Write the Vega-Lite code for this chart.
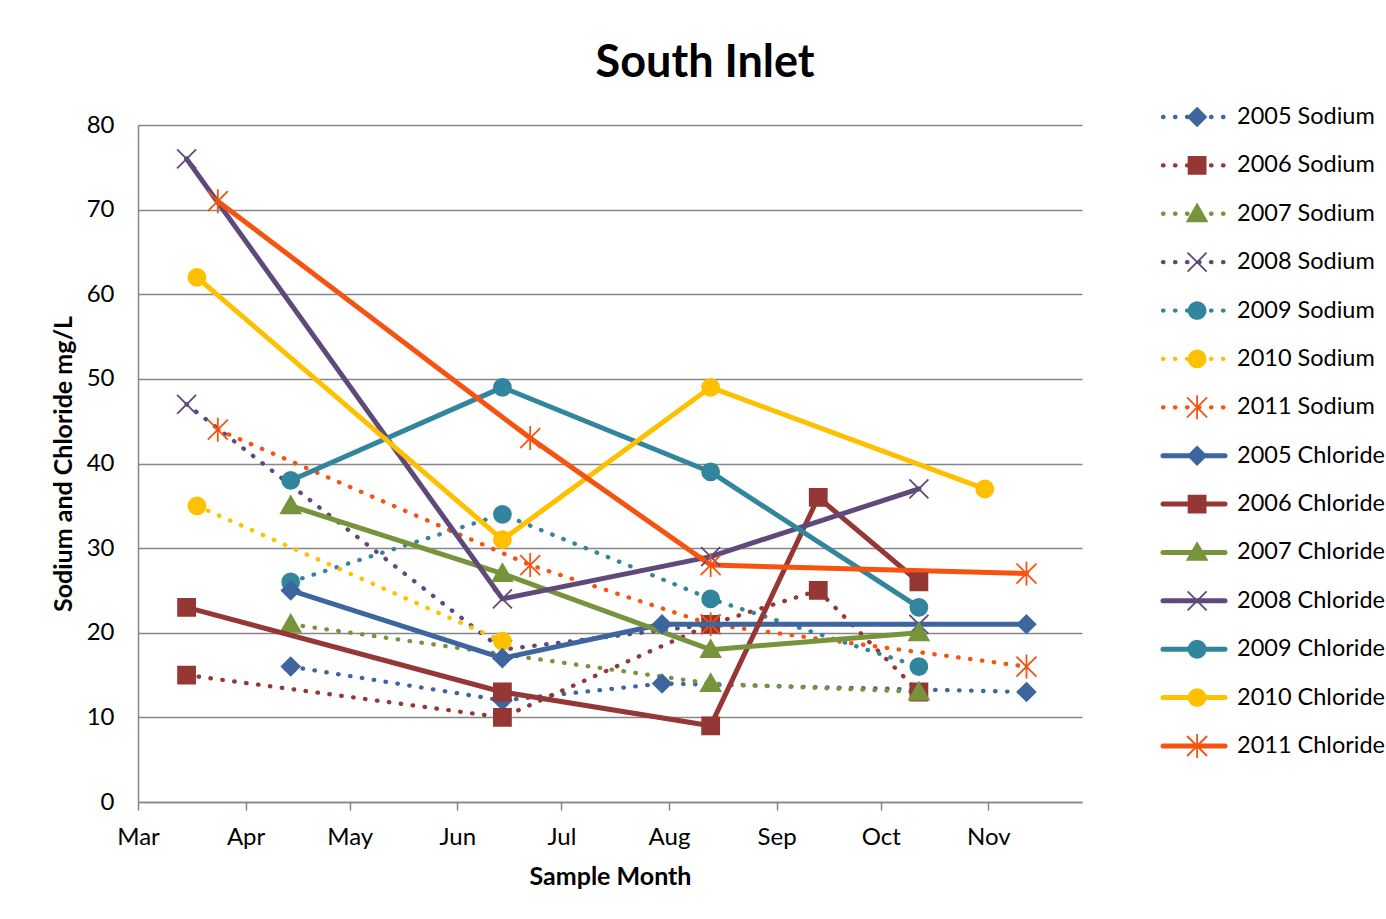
{
  "$schema": "https://vega.github.io/schema/vega-lite/v6.json",
  "background": "white",
  "padding": {"left": 51, "top": 41, "right": 0, "bottom": 0},
  "config": {"view": {"stroke": null}, "font": "Lato"},
  "title": {
    "text": "South Inlet",
    "font": "Lato",
    "fontSize": 45,
    "fontWeight": "bold",
    "color": "black",
    "anchor": "middle",
    "offset": 18,
    "dx": -13
  },
  "datasets": {
    "samples": [
      {"series": "2005 Sodium", "date": "2011-04-14", "value": 16},
      {"series": "2005 Sodium", "date": "2011-06-14", "value": 12},
      {"series": "2005 Sodium", "date": "2011-07-30", "value": 14},
      {"series": "2005 Sodium", "date": "2011-11-12", "value": 13},
      {"series": "2006 Sodium", "date": "2011-03-15", "value": 15},
      {"series": "2006 Sodium", "date": "2011-06-14", "value": 10},
      {"series": "2006 Sodium", "date": "2011-08-13", "value": 21},
      {"series": "2006 Sodium", "date": "2011-09-13", "value": 25},
      {"series": "2006 Sodium", "date": "2011-10-12", "value": 13},
      {"series": "2007 Sodium", "date": "2011-04-14", "value": 21},
      {"series": "2007 Sodium", "date": "2011-08-13", "value": 14},
      {"series": "2007 Sodium", "date": "2011-10-12", "value": 13},
      {"series": "2008 Sodium", "date": "2011-03-15", "value": 47},
      {"series": "2008 Sodium", "date": "2011-06-14", "value": 18},
      {"series": "2008 Sodium", "date": "2011-08-13", "value": 21},
      {"series": "2008 Sodium", "date": "2011-10-12", "value": 21},
      {"series": "2009 Sodium", "date": "2011-04-14", "value": 26},
      {"series": "2009 Sodium", "date": "2011-06-14", "value": 34},
      {"series": "2009 Sodium", "date": "2011-08-13", "value": 24},
      {"series": "2009 Sodium", "date": "2011-10-12", "value": 16},
      {"series": "2010 Sodium", "date": "2011-03-18", "value": 35},
      {"series": "2010 Sodium", "date": "2011-06-14", "value": 19},
      {"series": "2011 Sodium", "date": "2011-03-24", "value": 44},
      {"series": "2011 Sodium", "date": "2011-06-22", "value": 28},
      {"series": "2011 Sodium", "date": "2011-08-13", "value": 21},
      {"series": "2011 Sodium", "date": "2011-11-12", "value": 16},
      {"series": "2005 Chloride", "date": "2011-04-14", "value": 25},
      {"series": "2005 Chloride", "date": "2011-06-14", "value": 17},
      {"series": "2005 Chloride", "date": "2011-07-30", "value": 21},
      {"series": "2005 Chloride", "date": "2011-11-12", "value": 21},
      {"series": "2006 Chloride", "date": "2011-03-15", "value": 23},
      {"series": "2006 Chloride", "date": "2011-06-14", "value": 13},
      {"series": "2006 Chloride", "date": "2011-08-13", "value": 9},
      {"series": "2006 Chloride", "date": "2011-09-13", "value": 36},
      {"series": "2006 Chloride", "date": "2011-10-12", "value": 26},
      {"series": "2007 Chloride", "date": "2011-04-14", "value": 35},
      {"series": "2007 Chloride", "date": "2011-06-14", "value": 27},
      {"series": "2007 Chloride", "date": "2011-08-13", "value": 18},
      {"series": "2007 Chloride", "date": "2011-10-12", "value": 20},
      {"series": "2008 Chloride", "date": "2011-03-15", "value": 76},
      {"series": "2008 Chloride", "date": "2011-06-14", "value": 24},
      {"series": "2008 Chloride", "date": "2011-08-13", "value": 29},
      {"series": "2008 Chloride", "date": "2011-10-12", "value": 37},
      {"series": "2009 Chloride", "date": "2011-04-14", "value": 38},
      {"series": "2009 Chloride", "date": "2011-06-14", "value": 49},
      {"series": "2009 Chloride", "date": "2011-08-13", "value": 39},
      {"series": "2009 Chloride", "date": "2011-10-12", "value": 23},
      {"series": "2010 Chloride", "date": "2011-03-18", "value": 62},
      {"series": "2010 Chloride", "date": "2011-06-14", "value": 31},
      {"series": "2010 Chloride", "date": "2011-08-13", "value": 49},
      {"series": "2010 Chloride", "date": "2011-10-31", "value": 37},
      {"series": "2011 Chloride", "date": "2011-03-24", "value": 71},
      {"series": "2011 Chloride", "date": "2011-06-22", "value": 43},
      {"series": "2011 Chloride", "date": "2011-08-13", "value": 28},
      {"series": "2011 Chloride", "date": "2011-11-12", "value": 27}
    ]
  },
  "spacing": 78,
  "hconcat": [
    {
      "width": 944,
      "height": 677,
      "data": {"name": "samples"},
      "encoding": {
        "x": {
          "field": "date",
          "type": "temporal",
          "title": "Sample Month",
          "scale": {
            "type": "utc",
            "domain": [
              {"year": 2011, "month": 3, "date": 1, "utc": true},
              {"year": 2011, "month": 11, "date": 28, "utc": true}
            ]
          },
          "axis": {
            "values": [
              {"year": 2011, "month": 3, "date": 1, "utc": true},
              {"year": 2011, "month": 4, "date": 1, "utc": true},
              {"year": 2011, "month": 5, "date": 1, "utc": true},
              {"year": 2011, "month": 6, "date": 1, "utc": true},
              {"year": 2011, "month": 7, "date": 1, "utc": true},
              {"year": 2011, "month": 8, "date": 1, "utc": true},
              {"year": 2011, "month": 9, "date": 1, "utc": true},
              {"year": 2011, "month": 10, "date": 1, "utc": true},
              {"year": 2011, "month": 11, "date": 1, "utc": true}
            ],
            "format": "%b",
            "grid": false,
            "labelFlush": false,
            "labelOverlap": false,
            "labelFont": "Lato",
            "labelFontSize": 24,
            "labelColor": "black",
            "labelPadding": 15,
            "tickSize": 8,
            "tickColor": "#868686",
            "tickWidth": 1.5,
            "domainColor": "#868686",
            "domainWidth": 1.5,
            "titleFont": "Lato",
            "titleFontSize": 25,
            "titleFontWeight": "bold",
            "titleColor": "black",
            "titlePadding": 15
          }
        },
        "y": {
          "field": "value",
          "type": "quantitative",
          "title": "Sodium and Chloride mg/L",
          "scale": {"domain": [0, 80], "nice": false, "zero": true},
          "axis": {
            "values": [0, 10, 20, 30, 40, 50, 60, 70, 80],
            "grid": true,
            "gridColor": "#868686",
            "gridWidth": 1.3,
            "ticks": false,
            "labelPadding": 24,
            "labelFont": "Lato",
            "labelFontSize": 24,
            "labelColor": "black",
            "domainColor": "#868686",
            "domainWidth": 1.5,
            "titleFont": "Lato",
            "titleFontSize": 25,
            "titleFontWeight": "bold",
            "titleColor": "black",
            "titlePadding": 10
          }
        }
      },
      "layer": [
        {
          "transform": [{"filter": "test(/Sodium/, datum.series)"}],
          "mark": {"type": "line", "strokeWidth": 4.3, "strokeDash": [0.5, 11.5], "strokeCap": "round", "strokeJoin": "round"},
          "encoding": {
            "color": {
              "field": "series", "type": "nominal", "legend": null,
              "scale": {
                "domain": ["2005 Sodium", "2006 Sodium", "2007 Sodium", "2008 Sodium", "2009 Sodium", "2010 Sodium", "2011 Sodium", "2005 Chloride", "2006 Chloride", "2007 Chloride", "2008 Chloride", "2009 Chloride", "2010 Chloride", "2011 Chloride"],
                "range": ["#3D669E", "#953735", "#77933C", "#5F497A", "#31859C", "#FFC000", "#F65310", "#3D669E", "#953735", "#77933C", "#5F497A", "#31859C", "#FFC000", "#F65310"]
              }
            }
          }
        },
        {
          "transform": [{"filter": "test(/Sodium/, datum.series)"}],
          "mark": {"type": "point", "filled": true, "opacity": 1, "size": 400, "strokeWidth": 1.8},
          "encoding": {
            "fill": {
              "field": "series", "type": "nominal", "legend": null,
              "scale": {
                "domain": ["2005 Sodium", "2006 Sodium", "2007 Sodium", "2008 Sodium", "2009 Sodium", "2010 Sodium", "2011 Sodium", "2005 Chloride", "2006 Chloride", "2007 Chloride", "2008 Chloride", "2009 Chloride", "2010 Chloride", "2011 Chloride"],
                "range": ["#3D669E", "#953735", "#77933C", "#5F497A", "#31859C", "#FFC000", "#F65310", "#3D669E", "#953735", "#77933C", "#5F497A", "#31859C", "#FFC000", "#F65310"]
              }
            },
            "stroke": {
              "field": "series", "type": "nominal", "legend": null,
              "scale": {
                "domain": ["2005 Sodium", "2006 Sodium", "2007 Sodium", "2008 Sodium", "2009 Sodium", "2010 Sodium", "2011 Sodium", "2005 Chloride", "2006 Chloride", "2007 Chloride", "2008 Chloride", "2009 Chloride", "2010 Chloride", "2011 Chloride"],
                "range": ["#3D669E", "#953735", "#77933C", "#5F497A", "#31859C", "#FFC000", "#F65310", "#3D669E", "#953735", "#77933C", "#5F497A", "#31859C", "#FFC000", "#F65310"]
              }
            },
            "shape": {
              "field": "series", "type": "nominal", "legend": null,
              "scale": {
                "domain": ["2005 Sodium", "2006 Sodium", "2007 Sodium", "2008 Sodium", "2009 Sodium", "2010 Sodium", "2011 Sodium", "2005 Chloride", "2006 Chloride", "2007 Chloride", "2008 Chloride", "2009 Chloride", "2010 Chloride", "2011 Chloride"],
                "range": [
                  "M0,-0.9L0.9,0L0,0.9L-0.9,0Z",
                  "M-0.85,-0.85H0.85V0.85H-0.85Z",
                  "M0,-0.95L0.98,0.75L-0.98,0.75Z",
                  "M-0.95,-0.95L0.95,0.95M-0.95,0.95L0.95,-0.95",
                  "M-0.85,0A0.85,0.85,0,1,0,0.85,0A0.85,0.85,0,1,0,-0.85,0Z",
                  "M-0.85,0A0.85,0.85,0,1,0,0.85,0A0.85,0.85,0,1,0,-0.85,0Z",
                  "M-1,-1L1,1M-1,1L1,-1M0,-1.2L0,1.2",
                  "M0,-0.9L0.9,0L0,0.9L-0.9,0Z",
                  "M-0.85,-0.85H0.85V0.85H-0.85Z",
                  "M0,-0.95L0.98,0.75L-0.98,0.75Z",
                  "M-0.95,-0.95L0.95,0.95M-0.95,0.95L0.95,-0.95",
                  "M-0.85,0A0.85,0.85,0,1,0,0.85,0A0.85,0.85,0,1,0,-0.85,0Z",
                  "M-0.85,0A0.85,0.85,0,1,0,0.85,0A0.85,0.85,0,1,0,-0.85,0Z",
                  "M-1,-1L1,1M-1,1L1,-1M0,-1.2L0,1.2"
                ]
              }
            }
          }
        },
        {
          "transform": [{"filter": "test(/Chloride/, datum.series)"}],
          "mark": {"type": "line", "strokeWidth": 5, "strokeCap": "round", "strokeJoin": "round"},
          "encoding": {
            "color": {"field": "series", "type": "nominal", "legend": null}
          }
        },
        {
          "transform": [{"filter": "test(/Chloride/, datum.series)"}],
          "mark": {"type": "point", "filled": true, "opacity": 1, "size": 400, "strokeWidth": 1.8},
          "encoding": {
            "fill": {"field": "series", "type": "nominal", "legend": null},
            "stroke": {"field": "series", "type": "nominal", "legend": null},
            "shape": {"field": "series", "type": "nominal", "legend": null}
          }
        }
      ]
    },
    {
      "width": 62,
      "height": 677,
      "data": {"name": "samples"},
      "transform": [{"aggregate": [{"op": "count", "as": "n"}], "groupby": ["series"]}],
      "encoding": {
        "y": {
          "field": "series",
          "type": "nominal",
          "axis": null,
          "scale": {
            "type": "point",
            "padding": 0,
            "domain": ["2005 Sodium", "2006 Sodium", "2007 Sodium", "2008 Sodium", "2009 Sodium", "2010 Sodium", "2011 Sodium", "2005 Chloride", "2006 Chloride", "2007 Chloride", "2008 Chloride", "2009 Chloride", "2010 Chloride", "2011 Chloride"],
            "range": [-8, 621]
          }
        }
      },
      "layer": [
        {
          "transform": [{"filter": "test(/Sodium/, datum.series)"}],
          "mark": {"type": "rule", "strokeWidth": 4.3, "strokeDash": [0.5, 11.5], "strokeCap": "round"},
          "encoding": {
            "x": {"datum": 0, "type": "quantitative", "scale": {"domain": [0, 1]}, "axis": null},
            "x2": {"datum": 1},
            "color": {"field": "series", "type": "nominal", "legend": null}
          }
        },
        {
          "transform": [{"filter": "test(/Chloride/, datum.series)"}],
          "mark": {"type": "rule", "strokeWidth": 5, "strokeCap": "round"},
          "encoding": {
            "x": {"datum": 0, "type": "quantitative", "scale": {"domain": [0, 1]}, "axis": null},
            "x2": {"datum": 1},
            "color": {"field": "series", "type": "nominal", "legend": null}
          }
        },
        {
          "mark": {"type": "point", "filled": true, "opacity": 1, "size": 400, "strokeWidth": 1.8},
          "encoding": {
            "x": {"datum": 0.55, "type": "quantitative", "scale": {"domain": [0, 1]}, "axis": null},
            "fill": {"field": "series", "type": "nominal", "legend": null},
            "stroke": {"field": "series", "type": "nominal", "legend": null},
            "shape": {"field": "series", "type": "nominal", "legend": null}
          }
        },
        {
          "mark": {"type": "text", "align": "left", "baseline": "middle", "dx": 12, "font": "Lato", "fontSize": 23.5, "color": "black"},
          "encoding": {
            "x": {"datum": 1, "type": "quantitative", "scale": {"domain": [0, 1]}, "axis": null},
            "text": {"field": "series"}
          }
        }
      ]
    }
  ]
}
